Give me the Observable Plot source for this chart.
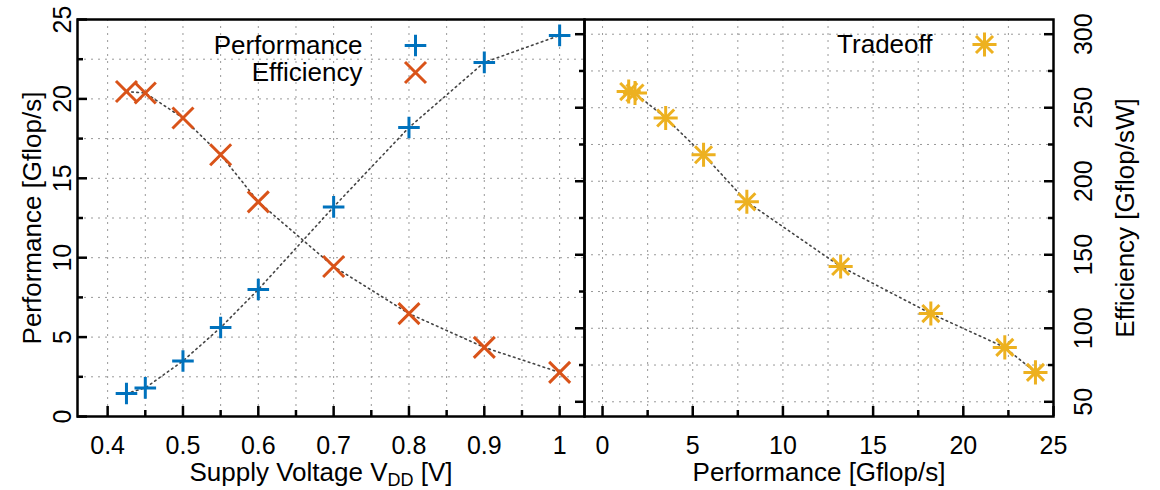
<!DOCTYPE html>
<html><head><meta charset="utf-8">
<script src="https://cdn.jsdelivr.net/npm/d3@7"></script>
<script src="https://cdn.jsdelivr.net/npm/@observablehq/plot@0.6"></script>
<style>
body{margin:0;background:#fff;}
#chart{position:relative;width:1160px;height:490px;background:#fff;}
#chart svg{position:absolute;top:0;}
</style></head><body><div id="chart"></div>
<script>
// ---- data ----
const voltage = [0.425, 0.45, 0.5, 0.55, 0.6, 0.7, 0.8, 0.9, 1.0];
const performance = [1.45, 1.8, 3.5, 5.6, 8.0, 13.2, 18.2, 22.3, 24.0];
const efficiency = [261, 260, 243, 218, 186, 142, 110, 87, 70];
const seriesNames = ["Performance", "Efficiency", "Tradeoff"];
const seriesColors = ["#0072BD", "#D95319", "#EDB120"];
// ---- ticks ----
const voltageTicks = [0.4, 0.5, 0.6, 0.7, 0.8, 0.9, 1];
const voltageMinorTicks = [0.45, 0.55, 0.65, 0.75, 0.85, 0.95];
const perfTicks = [0, 5, 10, 15, 20, 25];
const perfMinorTicks = [2.5, 7.5, 12.5, 17.5, 22.5];
const effTicks = [50, 100, 150, 200, 250, 300];
const effMinorTicks = [75, 125, 175, 225, 275];
const axisTitles = ["Supply Voltage VDD [V]", "Performance [Gflop/s]", "Efficiency [Gflop/sW]"];

const voltageDomain = [0.36, 1.033];
const perfDomain = [0, 25];
const perfDomainRight = [-1, 25];
const effDomain = [40, 310];
// efficiency shares the left panel's y scale through its right-hand axis
const toPerf = e => perfDomain[0] + (e - effDomain[0]) / (effDomain[1] - effDomain[0]) * (perfDomain[1] - perfDomain[0]);

const rows = voltage.map((v, i) => ({v, p: performance[i], e: efficiency[i], ep: toPerf(efficiency[i])}));

const FONT = "'Liberation Sans', Arial, Helvetica, sans-serif";
const TICK_FS = 25, TITLE_FS = 26;
const gridStyle = {stroke: "#999", strokeWidth: 1, strokeDasharray: "2,5"};
const lineStyle = {stroke: "#444", strokeWidth: 1.6, strokeDasharray: "1.6,3.6"};
const majorTick = {tickSize: -10, strokeWidth: 2.5, fill: "none", label: null};
const minorTick = {tickSize: -6, strokeWidth: 2.5, fill: "none", label: null};
const [blue, orange, yellow] = seriesColors;
const plusSym = {symbol: "plus", r: 7, fill: "none", strokeWidth: 3};
const timesSym = {symbol: "times", r: 9.6, fill: "none", strokeWidth: 3};
const astPlus = {symbol: "plus", r: 7.8, fill: "none", strokeWidth: 3};
const astTimes = {symbol: "times", r: 7.8, fill: "none", strokeWidth: 3};
const txt = (fs) => ({text: d => String(d), fontSize: fs, textAnchor: "middle", lineAnchor: "middle"});
const baseStyle = {background: "none", fontFamily: FONT, fontSize: TICK_FS + "px", overflow: "visible", color: "black"};

const left = Plot.plot({
  width: 584, height: 490,
  marginLeft: 77, marginRight: 0, marginTop: 19, marginBottom: 74,
  style: baseStyle,
  x: {domain: voltageDomain},
  y: {domain: perfDomain},
  marks: [
    Plot.ruleX([...voltageTicks, ...voltageMinorTicks], gridStyle),
    Plot.ruleY([...perfTicks, ...perfMinorTicks], gridStyle),
    Plot.line(rows, {x: "v", y: "p", ...lineStyle}),
    Plot.line(rows, {x: "v", y: "ep", ...lineStyle}),
    Plot.dot(rows, {x: "v", y: "p", stroke: blue, ...plusSym}),
    Plot.dot(rows, {x: "v", y: "ep", stroke: orange, ...timesSym}),
    Plot.frame({stroke: "black", strokeWidth: 2.5}),
    Plot.axisX(voltageTicks, {anchor: "bottom", ...majorTick}),
    Plot.axisX(voltageMinorTicks, {anchor: "bottom", ...minorTick}),
    Plot.axisY(perfTicks, {anchor: "left", ...majorTick}),
    Plot.axisY(perfMinorTicks, {anchor: "left", ...minorTick}),
    Plot.axisY(effTicks.map(toPerf), {anchor: "right", ...majorTick}),
    Plot.axisY(effMinorTicks.map(toPerf), {anchor: "right", ...minorTick}),
    Plot.text(voltageTicks, {x: d => d, frameAnchor: "bottom", dy: 29, ...txt(TICK_FS)}),
    Plot.text(perfTicks, {y: d => d, frameAnchor: "left", dx: -15, rotate: -90, ...txt(TICK_FS)}),
    Plot.text([axisTitles[0]], {frameAnchor: "bottom", dy: 56, dx: -10, ...txt(TITLE_FS)}),
    Plot.text([axisTitles[1]], {frameAnchor: "left", dx: -45, rotate: -90, ...txt(TITLE_FS)}),
    // legend
    Plot.text([seriesNames[0]], {frameAnchor: "top-left", dx: 285, dy: 26, ...txt(TITLE_FS), textAnchor: "end"}),
    Plot.text([seriesNames[1]], {frameAnchor: "top-left", dx: 285, dy: 53, ...txt(TITLE_FS), textAnchor: "end"}),
    Plot.dot([seriesNames[0]], {frameAnchor: "top-left", dx: 338, dy: 26, stroke: blue, ...plusSym}),
    Plot.dot([seriesNames[1]], {frameAnchor: "top-left", dx: 338, dy: 53, stroke: orange, ...timesSym})
  ]
});

const right = Plot.plot({
  width: 576, height: 490,
  marginLeft: 0, marginRight: 107, marginTop: 19, marginBottom: 74,
  style: baseStyle,
  x: {domain: perfDomainRight},
  y: {domain: effDomain},
  marks: [
    Plot.ruleX([...perfTicks, ...perfMinorTicks], gridStyle),
    Plot.ruleY([...effTicks, ...effMinorTicks], gridStyle),
    Plot.line(rows, {x: "p", y: "e", ...lineStyle}),
    Plot.dot(rows, {x: "p", y: "e", stroke: yellow, ...astPlus}),
    Plot.dot(rows, {x: "p", y: "e", stroke: yellow, ...astTimes}),
    Plot.frame({stroke: "black", strokeWidth: 2.5}),
    Plot.axisX(perfTicks, {anchor: "bottom", ...majorTick}),
    Plot.axisX(perfMinorTicks, {anchor: "bottom", ...minorTick}),
    Plot.axisY(effTicks, {anchor: "right", ...majorTick}),
    Plot.axisY(effMinorTicks, {anchor: "right", ...minorTick}),
    Plot.text(perfTicks, {x: d => d, frameAnchor: "bottom", dy: 29, ...txt(TICK_FS)}),
    Plot.text(effTicks, {y: d => d, frameAnchor: "right", dx: 30, rotate: -90, ...txt(TICK_FS)}),
    Plot.text([axisTitles[1]], {frameAnchor: "bottom", dy: 56, ...txt(TITLE_FS)}),
    Plot.text([axisTitles[2]], {frameAnchor: "right", dx: 72, rotate: -90, ...txt(TITLE_FS)}),
    // legend
    Plot.text([seriesNames[2]], {frameAnchor: "top-left", dx: 348, dy: 25, ...txt(TITLE_FS), textAnchor: "end"}),
    Plot.dot([seriesNames[2]], {frameAnchor: "top-left", dx: 400, dy: 25, stroke: yellow, ...astPlus}),
    Plot.dot([seriesNames[2]], {frameAnchor: "top-left", dx: 400, dy: 25, stroke: yellow, ...astTimes})
  ]
});

// subscript "DD" in the voltage axis title
d3.select(left).selectAll("text").filter(function () { return this.textContent === axisTitles[0]; }).each(function () {
  const t = d3.select(this);
  t.text(null);
  t.append("tspan").text("Supply Voltage V");
  t.append("tspan").attr("font-size", "18px").attr("dy", 5).text("DD");
  t.append("tspan").attr("dy", -5).text(" [V]");
});

left.style.left = "0px";
right.style.left = "584px";
const chart = document.getElementById("chart");
chart.appendChild(left);
chart.appendChild(right);
</script></body></html>
